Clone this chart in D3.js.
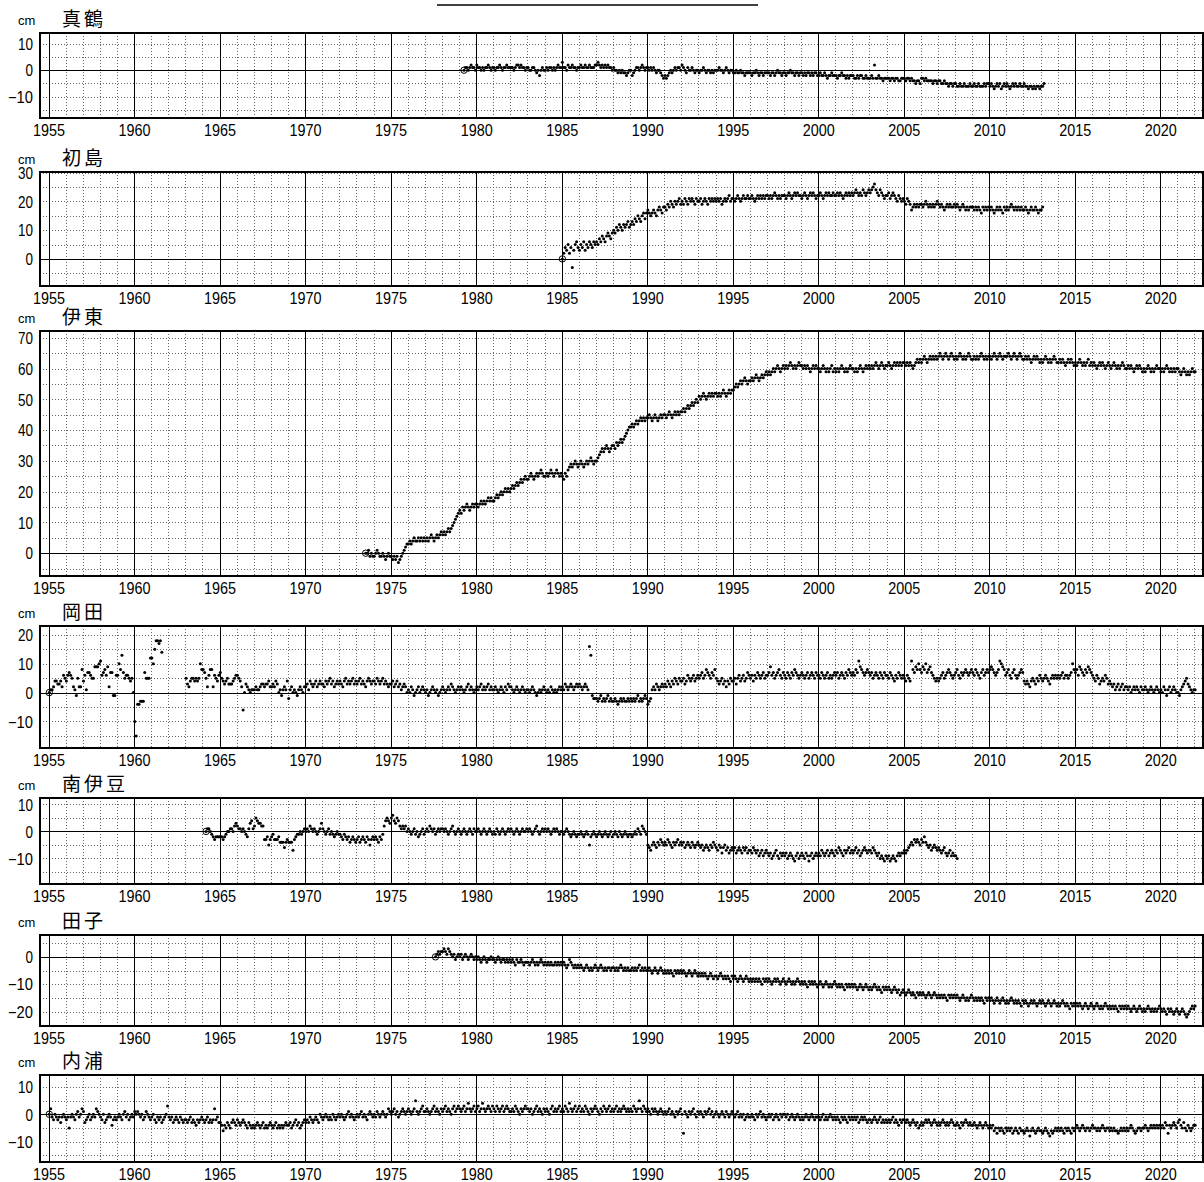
<!DOCTYPE html>
<html>
<head>
<meta charset="utf-8">
<script src="https://cdn.jsdelivr.net/npm/d3@7"></script>
<style>
body { margin: 0; background: #fff; }
</style>
</head>
<body>
<div id="chart"></div>
<script>
// station names, top to bottom
var stationNames = ["真鶴", "初島", "伊東", "岡田", "南伊豆", "田子", "内浦"];

// x axis labels (years)
var yearLabels = [1955, 1960, 1965, 1970, 1975, 1980, 1985, 1990, 1995, 2000, 2005, 2010, 2015, 2020];

// y axis tick labels per station (cm)
var manazuruTicks = [-10, 0, 10];
var hatsushimaTicks = [0, 10, 20, 30];
var itoTicks = [0, 10, 20, 30, 40, 50, 60, 70];
var okadaTicks = [-10, 0, 10, 20];
var minamiizuTicks = [-10, 0, 10];
var tagoTicks = [-20, -10, 0];
var uchiuraTicks = [-10, 0, 10];

// monthly values in cm, first value = reference (0); start = [year, month]
var manazuruStart = [1979, 4];
var manazuru = [
  0, 1, 1, 0, 1, 2, 1, 1, 0,
  2, 1, 1, 0, 1, 0, 1, 1, 2, 1, 0, 1,
  1, 0, 1, 1, 2, 1, 0, 1, 1, 2, 1, 1,
  1, 1, 0, 1, 2, 2, 1, 2, 1, 1, 0, 1,
  1, 0, 0, 1, 1, 0, -1, 0, -2, 0, 1, 0,
  0, 1, 0, 1, 1, 0, 1, 0, 1, 2, 1, 1,
  3, 1, 1, 0, 2, 1, 1, 2, 1, 1, 0, 1,
  1, 2, 1, 1, 2, 1, 1, 2, 1, 1, 1, 2,
  2, 3, 2, 1, 2, 1, 2, 1, 2, 1, 1, 0,
  1, 0, 0, -1, 0, -1, 0, -1, -1, -2, -1, 0,
  0, -2, -1, 0, 1, 1, 0, 1, 2, 1, 0, 1,
  1, 0, 1, 0, 1, 0, -1, 0, 0, -1, -2, -3,
  -2, -3, -2, -1, 0, -1, 0, 1, 0, 1, 1, 0,
  2, 1, 0, -1, 1, 0, 0, 1, 0, -1, 0, 0,
  -1, 0, 0, 1, 0, -1, 0, 0, -1, 0, -1, 0,
  0, 0, 1, 0, 0, -1, 0, 1, 0, -1, 0, 0,
  -1, -1, 0, -1, -1, 0, -1, -1, -2, -1, -1, -1,
  -1, -2, -1, -1, 0, -1, -2, -1, -1, -2, -1, -1,
  -1, -1, -2, -1, -1, -2, -1, 0, -1, -1, -2, -1,
  -1, -2, -1, -1, 0, -1, -1, -2, -1, -1, -2, -1,
  -1, -2, -1, -2, -1, -1, -2, -1, -2, -1, -1, -2,
  -2, -1, -2, -2, -1, -2, -3, -2, -2, -1, -2, -2,
  -2, -3, -2, -2, -1, -2, -2, -3, -2, -3, -2, -2,
  -2, -3, -3, -2, -3, -2, -2, -3, -3, -2, -3, -3,
  -3, -2, -3, 2, -3, -3, -2, -3, -3, -4, -3, -3,
  -3, -3, -4, -3, -3, -4, -3, -3, -4, -4, -3, -3,
  -3, -4, -3, -3, -4, -3, -4, -4, -5, -4, -4, -5,
  -3, -3, -4, -3, -4, -4, -4, -4, -5, -4, -4, -5,
  -4, -4, -5, -5, -4, -5, -5, -6, -5, -5, -6, -5,
  -5, -6, -6, -5, -6, -6, -5, -6, -6, -6, -5, -6,
  -6, -5, -6, -6, -5, -6, -6, -6, -5, -6, -5, -5,
  -6, -5, -6, -7, -6, -5, -6, -5, -7, -6, -5, -6,
  -5, -6, -7, -6, -5, -6, -5, -6, -6, -5, -6, -6,
  -5, -6, -6, -7, -6, -6, -7, -6, -7, -6, -6, -7,
  -6, -6, -5
];

var hatsushimaStart = [1985, 1];
var hatsushima = [
  0, 2, 4, 3, 5, 2, 4, -3, 3, 5, 6, 4,
  3, 5, 4, 6, 3, 5, 4, 6, 5, 4, 6, 5,
  6, 5, 7, 6, 8, 7, 6, 8, 9, 8, 7, 9,
  10, 9, 11, 10, 12, 11, 10, 12, 11, 12, 13, 11,
  12, 13, 12, 14, 13, 15, 14, 13, 15, 16, 14, 16,
  17, 16, 15, 16, 17, 16, 15, 17, 18, 17, 16, 18,
  18, 17, 19, 18, 20, 19, 18, 20, 19, 20, 21, 19,
  20, 19, 21, 20, 19, 21, 20, 21, 20, 19, 21, 20,
  20, 21, 19, 20, 21, 20, 19, 21, 20, 21, 20, 21,
  20, 21, 20, 21, 19, 20, 21, 20, 21, 22, 20, 21,
  21, 20, 21, 22, 21, 20, 21, 22, 21, 21, 22, 21,
  21, 22, 21, 20, 21, 22, 21, 22, 21, 22, 21, 22,
  22, 21, 22, 21, 22, 23, 22, 21, 22, 21, 22, 22,
  22, 21, 22, 23, 22, 21, 22, 23, 22, 23, 22, 22,
  21, 22, 23, 22, 21, 22, 23, 22, 23, 22, 21, 22,
  22, 23, 22, 21, 22, 23, 22, 23, 22, 22, 23, 22,
  22, 23, 22, 23, 22, 21, 22, 23, 22, 23, 22, 23,
  22, 23, 24, 23, 22, 23, 22, 24, 23, 22, 23, 24,
  23, 24, 25, 26, 24, 23, 22, 24, 23, 22, 21, 22,
  22, 23, 21, 22, 23, 22, 21, 20, 22, 21, 20, 21,
  20, 19, 21, 20, 19, 17, 18, 19, 18, 19, 18, 19,
  19, 18, 19, 20, 19, 18, 19, 18, 19, 18, 19, 20,
  19, 18, 19, 18, 17, 18, 19, 18, 19, 18, 18, 19,
  18, 19, 18, 17, 18, 19, 18, 17, 18, 17, 18, 18,
  18, 17, 18, 17, 18, 17, 16, 18, 17, 18, 17, 18,
  17, 18, 17, 16, 17, 18, 17, 18, 17, 16, 18, 17,
  18, 17, 18, 19, 18, 17, 18, 17, 18, 17, 18, 17,
  17, 18, 17, 16, 17, 18, 17, 17, 18, 17, 16, 17,
  17, 18
];

var itoStart = [1973, 7];
var ito = [
  0, 0, 1, -1, 0, -1,
  -1, 0, 1, 0, -1, -1, 0, -1, -2, -1, 0, -1,
  -1, -2, -1, -2, -1, -3, -2, -1, 0, 1, 2, 3,
  3, 4, 3, 4, 5, 4, 4, 5, 4, 5, 4, 5,
  4, 5, 4, 5, 6, 5, 4, 5, 6, 5, 6, 7,
  6, 7, 6, 7, 8, 7, 8, 9, 10, 11, 12, 13,
  14, 13, 15, 14, 15, 16, 15, 14, 15, 16, 15, 16,
  16, 15, 16, 17, 16, 17, 16, 17, 18, 17, 18, 17,
  17, 18, 19, 18, 19, 20, 19, 20, 21, 20, 21, 20,
  21, 22, 21, 22, 23, 22, 23, 24, 23, 24, 25, 24,
  24, 25, 26, 25, 24, 25, 26, 25, 26, 27, 26, 25,
  25, 26, 25, 26, 27, 26, 25, 26, 27, 26, 25, 26,
  25, 24, 26, 25, 27, 28, 29, 28, 29, 30, 29, 28,
  29, 30, 29, 28, 29, 30, 29, 30, 31, 30, 29, 30,
  30, 31, 32, 33, 34, 33, 34, 35, 34, 33, 34, 35,
  35, 34, 36, 35, 36, 37, 36, 37, 38, 39, 40, 41,
  41, 42, 41, 42, 43, 42, 43, 44, 43, 44, 43, 44,
  44, 45, 44, 43, 44, 45, 44, 43, 44, 45, 44, 45,
  45, 44, 45, 46, 45, 44, 45, 46, 45, 46, 45, 46,
  46, 47, 46, 47, 48, 47, 48, 49, 48, 49, 50, 49,
  51, 50, 51, 52, 51, 50, 51, 52, 51, 52, 51, 52,
  52, 51, 52, 51, 52, 53, 52, 51, 52, 53, 52, 53,
  53, 54, 55, 54, 55, 56, 55, 56, 57, 56, 55, 56,
  56, 57, 56, 57, 58, 57, 56, 57, 58, 57, 58, 59,
  58, 59, 58, 59, 60, 59, 60, 61, 60, 59, 60, 61,
  60, 61, 60, 61, 62, 61, 60, 61, 60, 61, 62, 61,
  61, 60, 61, 60, 61, 60, 59, 60, 61, 60, 61, 60,
  60, 59, 60, 61, 60, 59, 60, 59, 60, 61, 59, 60,
  59, 60, 59, 60, 61, 60, 59, 60, 59, 60, 61, 60,
  60, 59, 60, 59, 60, 61, 60, 59, 60, 61, 60, 61,
  60, 61, 60, 61, 62, 61, 60, 61, 62, 61, 60, 61,
  61, 62, 61, 60, 61, 62, 61, 62, 61, 62, 61, 62,
  62, 61, 62, 61, 62, 61, 60, 61, 62, 63, 62, 63,
  62, 63, 64, 63, 62, 63, 64, 63, 64, 63, 64, 63,
  64, 65, 64, 63, 64, 65, 64, 63, 64, 65, 64, 63,
  64, 63, 64, 65, 64, 63, 64, 63, 64, 65, 64, 63,
  63, 64, 63, 64, 63, 64, 65, 64, 63, 64, 63, 64,
  64, 63, 64, 65, 64, 63, 64, 65, 64, 63, 64, 64,
  64, 65, 64, 63, 64, 65, 64, 63, 64, 65, 64, 63,
  63, 64, 63, 64, 63, 62, 63, 64, 63, 64, 63, 62,
  63, 62, 63, 64, 63, 62, 63, 62, 63, 64, 63, 62,
  62, 63, 62, 63, 62, 61, 62, 63, 62, 63, 62, 61,
  62, 61, 62, 63, 62, 61, 62, 61, 62, 63, 61, 62,
  61, 62, 61, 60, 61, 62, 61, 62, 61, 60, 61, 62,
  61, 60, 61, 62, 61, 60, 61, 60, 61, 62, 61, 60,
  60, 61, 60, 61, 60, 59, 60, 61, 60, 61, 60, 59,
  60, 59, 60, 61, 60, 59, 60, 59, 60, 61, 60, 60,
  59, 60, 59, 60, 61, 60, 59, 60, 59, 60, 59, 60,
  60, 59, 58, 59, 60, 59, 58, 59, 58, 59, 60, 59,
  59
];

var okadaStart = [1955, 1];
var okada = [
  0, 1, 1, 2, 4, 4, 3, 3, 4, 2, 6, 5,
  4, 6, 7, 6, 5, 2, 1, -1, 5, 2, 2, 8,
  4, 6, 1, 7, 7, 6, 5, 5, 9, 9, 9, 10,
  11, 6, 7, 8, 6, 9, 2, 7, 7, -1, -1, 6,
  6, 10, 8, 13, 7, 5, 6, 6, 5, 4, 5, 0,
  -10, -15, -4, -4, -3, -3, -3, 7, 5, 5, 5, 12,
  12, 10, 15, 18, 18, 17, 18, 14, null, null, null, null,
  null, null, null, null, null, null, null, null, null, null, null, null,
  5, 3, 2, 4, 5, 5, 4, 5, 4, 5, 10, 8,
  8, 7, 5, 2, 6, 8, 8, 2, 6, 5, 4, 6,
  7, 5, 4, 3, 4, 5, 3, 3, 3, 4, 5, 6,
  6, 5, 4, 2, -6, 0, 3, 2, 1, 0, 1, 1,
  1, 2, 1, 1, 2, 3, 3, 2, 3, 3, 4, 2,
  2, 3, 2, 4, 3, 0, 1, -1, 1, 2, 1, 4,
  -2, 1, 2, 0, 1, 0, -1, 1, 2, 1, 0, 2,
  2, 3, 1, 4, 3, 2, 3, 4, 2, 3, 4, 3,
  3, 2, 4, 3, 4, 5, 3, 4, 2, 3, 4, 3,
  4, 3, 2, 4, 5, 3, 4, 3, 4, 5, 3, 4,
  3, 4, 5, 3, 4, 3, 2, 4, 5, 4, 3, 4,
  4, 3, 5, 4, 3, 4, 5, 3, 4, 3, 2, 3,
  3, 4, 2, 3, 4, 2, 3, 1, 2, 3, 2, 0,
  1, 0, 2, 1, -1, 0, 1, 2, 0, 1, 2, 1,
  0, 1, -1, 0, 1, 2, 1, 0, 1, -1, 0, 1,
  2, 1, 0, 1, 2, 1, 3, 2, 1, 0, 1, 2,
  1, 2, 1, 0, 1, 2, 3, 1, 2, 1, 0, 1,
  2, 1, 2, 3, 1, 2, 1, 2, 3, 1, 2, 1,
  1, 2, 1, 0, 1, 2, 1, 0, 2, 1, 3, 2,
  2, 1, 0, 1, 2, 1, 0, 1, 2, 1, 0, 1,
  1, 0, 1, 2, 1, 0, -1, 0, 1, 0, 1, 2,
  1, 0, 1, 0, 2, 1, 0, 1, 0, 1, 2, 1,
  2, 1, 3, 2, 1, 2, 3, 2, 1, 2, 3, 2,
  3, 2, 1, 2, 3, 2, 1, 16, 13, -1, -2, -2,
  -2, -3, -2, -1, -3, -2, -3, -2, -1, -3, -2, -3,
  -3, -2, -3, -4, -3, -2, -3, -2, -3, -3, -2, -3,
  -2, -3, -2, -3, -2, -1, -3, -2, -3, -2, -1, -2,
  -4, -3, -2, 1, 2, 1, 3, 2, 1, 2, 3, 2,
  3, 2, 4, 3, 2, 4, 3, 5, 4, 3, 5, 4,
  4, 5, 3, 4, 6, 5, 4, 5, 6, 4, 5, 6,
  5, 6, 7, 5, 6, 8, 7, 6, 5, 7, 6, 8,
  5, 4, 3, 4, 5, 3, 4, 2, 4, 3, 5, 4,
  4, 5, 3, 5, 6, 4, 5, 6, 4, 5, 7, 6,
  5, 6, 4, 6, 5, 7, 6, 5, 6, 7, 5, 6,
  6, 7, 9, 6, 7, 5, 6, 7, 8, 6, 5, 7,
  6, 5, 7, 6, 5, 7, 6, 8, 7, 6, 5, 6,
  7, 6, 5, 6, 7, 5, 6, 7, 6, 5, 7, 6,
  6, 5, 7, 6, 5, 6, 7, 5, 6, 5, 6, 7,
  6, 7, 5, 6, 7, 6, 5, 7, 6, 8, 7, 6,
  7, 6, 8, 7, 11, 9, 8, 7, 6, 7, 8, 7,
  6, 7, 5, 6, 7, 6, 5, 7, 6, 5, 7, 6,
  6, 5, 7, 6, 5, 4, 6, 5, 7, 6, 5, 6,
  5, 4, 6, 5, 4, 11, 8, 7, 9, 8, 10, 8,
  7, 9, 8, 10, 7, 8, 9, 7, 6, 5, 4, 5,
  4, 5, 6, 7, 5, 6, 7, 8, 7, 6, 5, 6,
  7, 8, 6, 5, 7, 6, 7, 8, 7, 6, 7, 8,
  7, 6, 8, 7, 6, 5, 7, 8, 6, 7, 8, 7,
  8, 9, 8, 7, 6, 7, 8, 11, 10, 9, 8, 6,
  7, 8, 6, 5, 7, 8, 6, 5, 6, 7, 8, 7,
  4, 3, 4, 3, 2, 4, 5, 4, 3, 5, 4, 6,
  5, 4, 5, 6, 5, 4, 3, 5, 6, 5, 6, 5,
  6, 5, 6, 7, 5, 6, 6, 5, 6, 7, 10, 8,
  7, 8, 6, 9, 8, 7, 6, 8, 7, 9, 8, 7,
  6, 5, 4, 6, 5, 3, 4, 5, 4, 6, 5, 3,
  4, 3, 2, 3, 1, 2, 3, 1, 2, 3, 1, 2,
  2, 1, 2, 0, 1, 2, 1, 2, 1, 0, 2, 1,
  1, 2, 1, 0, 1, 2, 1, 0, 1, 2, 1, 0,
  1, 0, 2, 1, -1, 1, 2, 0, 1, 2, 1, 0,
  0, -1, 1, 2, 3, 4, 5, 3, 2, 1, 0, 1,
  1
];

var minamiizuStart = [1964, 3];
var minamiizu = [
  0, 1, 1, 0, -1, -2, -3, -2, -2, -2,
  -2, -2, -3, -2, -1, 0, 0, 1, 1, 0, 2, 3,
  2, 1, 1, 0, 1, 0, -1, -2, 1, 3, 4, 1,
  2, 5, 4, 3, 3, 2, 2, -3, -3, -2, -5, -3,
  -2, -1, -3, -3, -3, -2, -4, -4, -4, -6, -4, -3,
  -4, -4, -4, -7, -3, -2, -1, -1, 0, -1, 0, 1,
  0, 1, 0, 2, 1, 0, 1, 0, -1, 0, 1, 3,
  1, 0, -1, 0, 1, -1, 0, -1, -2, -1, 0, -1,
  -1, -2, -3, -1, -2, -3, -2, -4, -3, -2, -3, -4,
  -3, -2, -4, -3, -2, -3, -4, -2, -3, -5, -3, -2,
  -3, -2, -3, -4, -2, -3, -1, 2, 4, 5, 4, 3,
  5, 6, 4, 3, 5, 4, 2, 1, 2, 1, 2, 0,
  1, 0, -1, 0, 1, -1, 0, -2, -1, 0, 1, -1,
  0, 1, 0, 2, 1, 0, 1, -1, 0, 1, 0, 1,
  1, 0, 1, 0, -1, 0, 1, 2, 0, -1, 0, 1,
  0, -1, 0, 1, 0, -1, 0, 1, 0, -1, 1, 0,
  0, 1, 0, -1, 0, 1, 0, -1, 0, 1, 0, -1,
  0, -1, 1, 0, -1, 0, 1, 0, -1, 0, 1, 0,
  1, 0, -1, 0, 1, 0, -1, 0, 1, 0, 0, 1,
  0, 1, 0, -1, 0, 1, 2, 0, -1, 0, 1, 0,
  1, 0, 1, 0, -1, 0, 1, 0, 1, 0, -1, 0,
  0, -1, 0, 1, 0, -1, -2, -1, 0, -1, -2, -1,
  -1, 0, -1, -2, -1, 0, -1, -5, -2, -1, 0, -1,
  -2, -1, 0, -1, -2, -1, 0, -1, -2, -1, 0, -2,
  -1, 0, -1, -2, 0, -1, -2, -1, 0, -1, -2, -1,
  -1, -2, -1, 0, -1, 1, 0, -1, 2, 1, 0, -1,
  -5, -6, -7, -5, -4, -5, -6, -4, -5, -3, -4, -5,
  -4, -5, -3, -4, -5, -6, -4, -5, -4, -3, -5, -4,
  -5, -4, -6, -5, -4, -5, -6, -4, -5, -6, -5, -4,
  -5, -6, -5, -7, -6, -5, -6, -7, -5, -6, -4, -5,
  -6, -7, -5, -6, -8, -6, -5, -7, -6, -8, -7, -6,
  -7, -6, -8, -7, -6, -7, -8, -6, -7, -6, -8, -7,
  -7, -8, -6, -7, -8, -7, -9, -8, -7, -9, -8, -7,
  -8, -9, -8, -10, -9, -8, -7, -9, -10, -8, -9, -8,
  -9, -8, -10, -9, -8, -9, -10, -11, -9, -8, -10, -9,
  -8, -9, -10, -8, -9, -11, -9, -8, -10, -9, -8, -9,
  -8, -9, -7, -8, -9, -8, -7, -9, -8, -7, -8, -9,
  -7, -8, -6, -7, -8, -9, -7, -8, -7, -6, -8, -7,
  -8, -7, -6, -8, -7, -9, -8, -7, -6, -7, -8, -7,
  -7, -8, -6, -7, -8, -9, -8, -10, -9, -10, -11, -9,
  -10, -9, -11, -10, -9, -10, -11, -9, -8, -9, -8, -8,
  -7, -8, -7, -6, -5, -4, -5, -3, -4, -3, -4, -5,
  -3, -4, -2, -4, -5, -6, -5, -7, -6, -5, -6, -7,
  -6, -7, -8, -7, -6, -8, -9, -8, -7, -9, -8, -9,
  -9, -10
];

var tagoStart = [1977, 8];
var tago = [
  0, 1, 2, 1, 2,
  2, 3, 2, 1, 3, 2, 1, 0, 1, -1, 0, 1,
  0, 1, -1, 0, 1, 0, -1, 0, 1, 0, -1, 0,
  -1, 0, -1, -2, -1, 0, -1, -2, -1, -1, 0, -1,
  -1, -2, -1, 0, -1, -2, -1, -1, -2, -1, -2, -1,
  -2, -1, -2, -3, -1, -2, -2, -1, -2, -3, -2, -2,
  -2, -3, -2, -1, -2, -3, -2, -3, -2, -1, -2, -3,
  -2, -3, -2, -3, -2, -3, -3, -2, -3, -2, -3, -2,
  -3, -2, -3, -4, -3, -1, -2, -3, -4, -3, -4, -3,
  -4, -3, -4, -5, -4, -3, -4, -5, -4, -5, -4, -3,
  -4, -5, -4, -3, -4, -5, -4, -5, -4, -4, -5, -4,
  -4, -5, -4, -5, -4, -3, -4, -5, -4, -5, -4, -5,
  -5, -4, -5, -4, -5, -4, -3, -5, -4, -5, -4, -5,
  -5, -4, -5, -6, -5, -4, -5, -6, -5, -4, -5, -6,
  -5, -6, -5, -6, -5, -6, -7, -5, -6, -5, -6, -5,
  -6, -5, -6, -7, -6, -5, -6, -7, -6, -5, -6, -7,
  -6, -7, -6, -7, -6, -7, -8, -7, -6, -7, -8, -7,
  -7, -8, -7, -6, -7, -8, -7, -8, -7, -8, -9, -7,
  -8, -7, -8, -9, -8, -7, -8, -9, -8, -7, -8, -9,
  -8, -9, -8, -9, -8, -9, -8, -9, -10, -8, -9, -8,
  -9, -8, -9, -10, -9, -8, -9, -8, -9, -10, -9, -8,
  -9, -10, -9, -8, -9, -10, -9, -10, -9, -8, -9, -10,
  -9, -10, -9, -10, -11, -9, -10, -9, -10, -9, -10, -11,
  -10, -9, -10, -11, -10, -9, -10, -11, -10, -11, -10, -9,
  -10, -11, -10, -11, -10, -11, -12, -10, -11, -10, -11, -10,
  -11, -10, -11, -12, -11, -10, -11, -12, -11, -10, -11, -12,
  -11, -12, -11, -10, -11, -12, -11, -12, -13, -11, -12, -11,
  -12, -11, -12, -13, -12, -11, -12, -13, -12, -14, -13, -12,
  -13, -14, -13, -12, -13, -14, -13, -14, -15, -13, -14, -13,
  -14, -13, -14, -15, -14, -13, -14, -15, -14, -13, -14, -15,
  -14, -15, -14, -15, -14, -15, -16, -14, -15, -14, -15, -14,
  -15, -14, -15, -16, -15, -14, -15, -16, -15, -16, -15, -14,
  -15, -16, -15, -16, -15, -16, -15, -16, -17, -15, -16, -15,
  -16, -15, -16, -17, -16, -15, -16, -17, -16, -15, -16, -17,
  -16, -17, -16, -15, -16, -17, -16, -17, -16, -17, -18, -16,
  -17, -16, -17, -18, -17, -16, -17, -16, -17, -18, -17, -16,
  -17, -16, -17, -18, -17, -16, -17, -18, -17, -16, -17, -18,
  -17, -18, -17, -16, -17, -18, -17, -18, -19, -17, -18, -17,
  -18, -17, -18, -17, -18, -19, -18, -17, -18, -19, -18, -17,
  -18, -19, -18, -17, -18, -19, -18, -19, -18, -17, -18, -19,
  -18, -19, -18, -19, -18, -19, -20, -18, -19, -18, -19, -18,
  -19, -18, -19, -20, -19, -18, -19, -20, -19, -18, -19, -20,
  -19, -20, -19, -18, -19, -20, -19, -20, -19, -20, -19, -18,
  -19, -20, -19, -20, -21, -19, -20, -19, -20, -21, -20, -19,
  -20, -21, -20, -19, -20, -21, -22, -21, -20, -19, -18, -19,
  -18
];

var uchiuraStart = [1955, 1];
var uchiura = [
  0, 2, -1, -2, 0, -1, -2, -1, -3, -1, 0, -1,
  -2, -1, -5, -1, 0, -1, -2, 0, 1, -1, 0, 2,
  1, -3, -2, -1, 0, -2, -1, 0, -1, 2, 1, 0,
  -1, -2, 0, -3, -2, -1, 0, -1, -4, -2, -1, -2,
  -1, 0, -1, -2, 0, 1, -1, 0, -2, -1, 0, -1,
  1, 0, 1, 0, -1, 0, -2, -1, 1, 0, -1, -2,
  -1, 0, -2, -3, -1, -2, -1, -3, -2, -1, 0, 3,
  -1, -2, -1, -3, -2, -1, -2, -3, -1, -2, -3, -2,
  -2, -3, -2, -1, -3, -2, -3, -4, -2, -3, -2, -1,
  -2, -3, -2, -1, -3, -2, -3, -2, 2, -2, -1, -3,
  -3, -4, -6, -4, -5, -3, -4, -5, -3, -2, -3, -4,
  -2, -3, -4, -3, -2, -3, -4, -5, -3, -4, -5, -4,
  -5, -4, -3, -4, -5, -4, -3, -5, -4, -5, -4, -3,
  -4, -5, -4, -3, -5, -4, -5, -4, -5, -4, -3, -4,
  -4, -3, -5, -4, -3, -2, -4, -3, -5, -4, -3, -2,
  -3, -2, -3, -1, -2, -3, -2, -1, -2, -3, 0, -1,
  -2, -1, 0, -1, -2, -1, -2, 0, -1, -2, -1, 0,
  -1, 0, -1, -2, -1, 0, 1, -1, 0, -1, -2, -1,
  0, -1, 0, 1, -1, 0, -1, -2, 0, 1, 0, -1,
  0, -1, 1, 0, -1, 0, 1, 0, -1, 0, 2, 1,
  0, 1, 2, 0, 1, -1, 0, 1, 2, 1, 0, 1,
  2, 1, 0, 1, 2, 5, 1, 0, 1, 2, 3, 1,
  1, 2, 1, 0, 1, 2, 3, 1, 2, 1, 0, 2,
  1, 2, 3, 1, 2, 1, 0, 2, 3, 1, 2, 3,
  2, 1, 2, 3, 1, 2, 4, 2, 1, 2, 3, 1,
  2, 3, 1, 2, 4, 2, 1, 2, 3, 2, 1, 3,
  2, 1, 3, 2, 1, 2, 3, 1, 2, 3, 2, 1,
  1, 2, 1, 3, 2, 1, 0, 2, 1, 2, 3, 2,
  2, 1, 2, 0, 1, 2, 3, 1, 2, 1, 0, 2,
  1, 2, 1, 0, 2, 3, 1, 2, 1, 2, 3, 1,
  2, 1, 3, 2, 1, 4, 2, 1, 2, 3, 1, 2,
  3, 1, 2, 1, 3, 2, 1, 0, 2, 1, 2, 3,
  2, 1, 0, 2, 1, 3, 2, 1, 2, 3, 1, 2,
  1, 2, 3, 1, 2, 1, 2, 3, 2, 1, 2, 1,
  2, 1, 3, 2, 1, 2, 5, 2, 1, 3, 2, 1,
  2, 1, 0, 2, 1, 2, 1, 0, 1, 2, 1, 0,
  1, 0, 1, 2, 0, 1, 0, -1, 1, 0, 1, 2,
  0, -7, 1, 0, -1, 1, 0, 1, 2, 0, -1, 1,
  0, 1, 0, -1, 1, 0, 1, 2, 0, 1, -1, 0,
  1, 0, -1, 0, 1, 0, -1, 1, 0, -1, 0, 1,
  0, -1, 0, 1, -1, 0, -1, 0, -2, -1, 0, -1,
  -1, 0, -1, -2, 0, -1, 0, 1, -1, 0, -1, -2,
  -1, 0, -1, 0, -2, -1, 0, -1, -2, 0, -1, 0,
  0, -1, 0, -2, -1, 0, -1, -2, -1, 0, -1, -2,
  -1, -2, -1, 0, -1, -2, -1, 0, -1, -2, -1, -1,
  -1, -2, -1, 0, -2, -1, -2, -1, 0, -1, -2, -1,
  -2, -1, -2, -3, -1, -2, -1, -2, -3, -1, -2, -1,
  -2, -1, -2, -1, -3, -2, -1, -2, -1, -2, -3, -2,
  -2, -3, -2, -1, -2, -3, -2, -1, -3, -2, -3, -2,
  -3, -2, -3, -2, -1, -3, -2, -3, -4, -2, -3, -2,
  -2, -3, -2, -3, -4, -3, -2, -3, -4, -3, -5, -4,
  -3, -4, -3, -2, -3, -2, -3, -4, -3, -2, -3, -4,
  -3, -4, -3, -2, -3, -4, -3, -4, -3, -2, -3, -4,
  -4, -3, -4, -5, -3, -4, -3, -2, -3, -4, -3, -4,
  -4, -3, -4, -5, -4, -3, -4, -5, -4, -3, -4, -5,
  -4, -5, -4, -6, -5, -7, -5, -6, -5, -6, -7, -5,
  -6, -5, -6, -5, -7, -6, -5, -6, -7, -5, -6, -6,
  -7, -6, -5, -6, -8, -6, -5, -6, -7, -6, -5, -6,
  -6, -7, -6, -5, -6, -7, -8, -6, -7, -6, -5, -6,
  -5, -6, -5, -6, -7, -5, -6, -5, -6, -7, -5, -6,
  -5, -4, -5, -6, -5, -4, -5, -6, -5, -5, -6, -5,
  -4, -5, -5, -6, -5, -6, -5, -4, -5, -6, -5, -5,
  -6, -5, -6, -5, -6, -6, -7, -6, -5, -6, -5, -6,
  -5, -6, -5, -4, -5, -6, -7, -6, -5, -5, -6, -5,
  -5, -4, -5, -6, -5, -4, -5, -4, -5, -4, -5, -4,
  -5, -4, -5, -3, -4, -7, -4, -5, -4, -3, -4, -5,
  -3, -2, -4, -5, -3, -5, -6, -4, -5, -6, -5, -4,
  -4
];

// layout of the seven panels (pixel positions and visible cm range)
var panels = [
  {name: stationNames[0], start: manazuruStart, values: manazuru, ticks: manazuruTicks, top: 33, bottom: 118, yMin: -18, yMax: 14},
  {name: stationNames[1], start: hatsushimaStart, values: hatsushima, ticks: hatsushimaTicks, top: 172, bottom: 286, yMin: -9.4, yMax: 30.2},
  {name: stationNames[2], start: itoStart, values: ito, ticks: itoTicks, top: 331, bottom: 576, yMin: -7.4, yMax: 72.2},
  {name: stationNames[3], start: okadaStart, values: okada, ticks: okadaTicks, top: 626, bottom: 748, yMin: -19.2, yMax: 23.1},
  {name: stationNames[4], start: minamiizuStart, values: minamiizu, ticks: minamiizuTicks, top: 798, bottom: 884, yMin: -19.5, yMax: 12.4},
  {name: stationNames[5], start: tagoStart, values: tago, ticks: tagoTicks, top: 935, bottom: 1026, yMin: -25.3, yMax: 8},
  {name: stationNames[6], start: uchiuraStart, values: uchiura, ticks: uchiuraTicks, top: 1075, bottom: 1162, yMin: -17.5, yMax: 14.4}
];

var width = 1204, height = 1182;
var left = 40, right = 1203;

var svg = d3.select("#chart").append("svg")
    .attr("width", width)
    .attr("height", height)
    .style("font-family", "'Liberation Sans', Arial, sans-serif");

var x = d3.scaleLinear().domain([1954.5, 2022.5]).range([left, right]);

// line at top of the page
svg.append("line")
    .attr("x1", 437).attr("x2", 758)
    .attr("y1", 5).attr("y2", 5)
    .attr("stroke", "#000")
    .attr("stroke-width", 1.5);

function toPoints(start, values) {
    var pts = [];
    values.forEach(function(v, i) {
        if (v === null) return;
        var m = start[1] - 1 + i;
        pts.push({t: start[0] + (m + 0.5) / 12, v: v});
    });
    return pts;
}

var allYears = d3.range(1955, 2023);

panels.forEach(function(p) {
    var y = d3.scaleLinear().domain([p.yMin, p.yMax]).range([p.bottom, p.top]);
    var g = svg.append("g");

    // dotted year grid
    g.selectAll(".vminor")
        .data(allYears.filter(function(d) { return d % 5 !== 0; }))
        .enter().append("line")
        .attr("x1", function(d) { return Math.round(x(d)) + 0.5; })
        .attr("x2", function(d) { return Math.round(x(d)) + 0.5; })
        .attr("y1", p.top).attr("y2", p.bottom)
        .attr("stroke", "#666")
        .attr("stroke-width", 1)
        .attr("stroke-dasharray", "1,2");

    // dotted 5 cm grid
    var hLines = d3.range(Math.ceil(p.yMin / 5) * 5, p.yMax, 5).filter(function(d) { return d !== 0; });
    g.selectAll(".hminor")
        .data(hLines)
        .enter().append("line")
        .attr("x1", left).attr("x2", right)
        .attr("y1", function(d) { return Math.round(y(d)) + 0.5; })
        .attr("y2", function(d) { return Math.round(y(d)) + 0.5; })
        .attr("stroke", "#666")
        .attr("stroke-width", 1)
        .attr("stroke-dasharray", "1,2");

    // solid 5-year lines
    g.selectAll(".vmajor")
        .data(yearLabels)
        .enter().append("line")
        .attr("x1", function(d) { return Math.round(x(d)) + 0.5; })
        .attr("x2", function(d) { return Math.round(x(d)) + 0.5; })
        .attr("y1", p.top).attr("y2", p.bottom)
        .attr("stroke", "#000")
        .attr("stroke-width", 1);

    // zero line
    g.append("line")
        .attr("x1", left).attr("x2", right)
        .attr("y1", Math.round(y(0)) + 0.5).attr("y2", Math.round(y(0)) + 0.5)
        .attr("stroke", "#000")
        .attr("stroke-width", 1);

    // frame
    g.append("rect")
        .attr("x", left).attr("y", p.top)
        .attr("width", right - left).attr("height", p.bottom - p.top)
        .attr("fill", "none")
        .attr("stroke", "#000")
        .attr("stroke-width", 2);

    // x axis labels
    var xAxis = d3.axisBottom(x).tickValues(yearLabels).tickSize(0).tickPadding(7).tickFormat(d3.format("d"));
    var xg = g.append("g")
        .attr("transform", "translate(0," + p.bottom + ")")
        .call(xAxis);
    xg.select(".domain").remove();
    xg.selectAll("text")
        .attr("font-size", 16)
        .attr("font-family", "'Liberation Sans', Arial, sans-serif")
        .attr("fill", "#000")
        .attr("textLength", 32)
        .attr("lengthAdjust", "spacingAndGlyphs");

    // y axis labels
    var yAxis = d3.axisLeft(y).tickValues(p.ticks).tickSize(0).tickPadding(7);
    var yg = g.append("g")
        .attr("transform", "translate(" + left + ",0)")
        .call(yAxis);
    yg.select(".domain").remove();
    yg.selectAll("text")
        .attr("font-size", 16)
        .attr("font-family", "'Liberation Sans', Arial, sans-serif")
        .attr("fill", "#000")
        .attr("dy", "0.36em")
        .each(function(d) {
            var s = Math.abs(d).toString();
            var w = s.length * 7.5 + (d < 0 ? 10 : 0);
            d3.select(this).attr("textLength", w).attr("lengthAdjust", "spacingAndGlyphs");
        });

    // titles
    g.append("text")
        .attr("x", 18).attr("y", p.top - 8)
        .attr("font-size", 13)
        .attr("fill", "#000")
        .text("cm");
    g.append("text")
        .attr("x", 62).attr("y", p.top - 7)
        .attr("font-size", 19)
        .attr("letter-spacing", 3)
        .attr("font-family", "'Noto Sans CJK JP', sans-serif")
        .attr("fill", "#000")
        .text(p.name);

    // monthly dots
    var pts = toPoints(p.start, p.values);
    g.selectAll(".dot")
        .data(pts)
        .enter().append("circle")
        .attr("cx", function(d) { return x(d.t); })
        .attr("cy", function(d) { return y(d.v); })
        .attr("r", 1.5)
        .attr("fill", "#000");

    // reference point
    g.append("circle")
        .attr("cx", x(pts[0].t))
        .attr("cy", y(pts[0].v))
        .attr("r", 3.2)
        .attr("fill", "none")
        .attr("stroke", "#000")
        .attr("stroke-width", 1);
});
</script>
</body>
</html>
